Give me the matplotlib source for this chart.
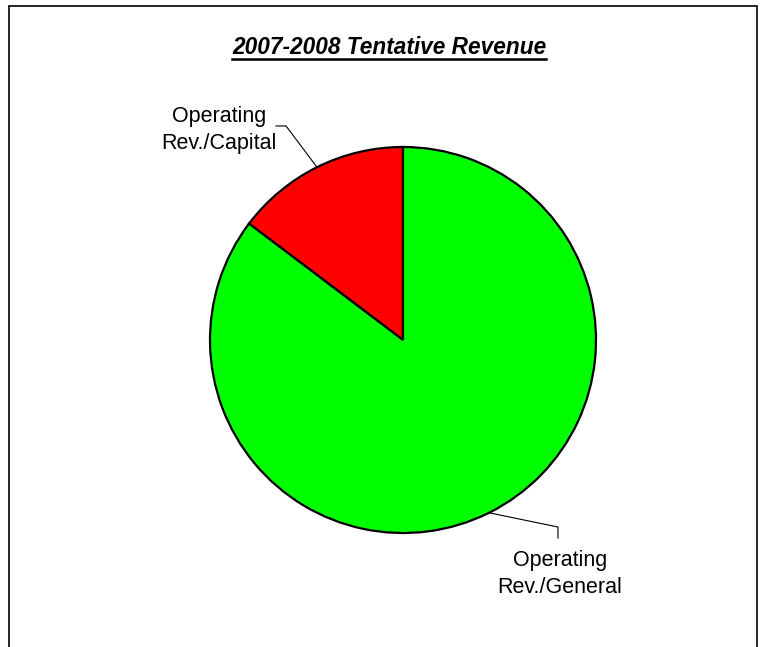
import numpy as np
import matplotlib.pyplot as plt
from matplotlib.lines import Line2D
from matplotlib.patches import Rectangle

# revenue split (percent)
categories = ['Operating\nRev./Capital', 'Operating\nRev./General']
shares = [14.7, 85.3]
colors = ['#ff0000', '#00ff00']

# label placement (data units of the pie axes) and leader elbows
label_pos = [(-0.953, 1.087), (0.813, -1.212)]
elbows = [[(-0.606, 1.109), (-0.658, 1.109)],
          [(0.803, -0.969), (0.803, -1.026)]]

plt.rcParams['font.family'] = ['Liberation Sans', 'DejaVu Sans']

W, H = 767, 647
fig = plt.figure(figsize=(W / 100, H / 100), dpi=100)

# chart frame (bottom edge runs off the page)
fig.patches.append(Rectangle((9 / W, -0.1), (757 - 9) / W, 1.1 - 6 / H,
                             transform=fig.transFigure, fill=False,
                             edgecolor='black', linewidth=1.2))

cx, cy, r = 403, 340, 193
ax = fig.add_axes([(cx - r) / W, (H - cy - r) / H, 2 * r / W, 2 * r / H])
wedges, _ = ax.pie(shares, colors=colors, startangle=90, counterclock=True,
                   wedgeprops=dict(edgecolor='black', linewidth=1.6))
ax.set_xlim(-1, 1)
ax.set_ylim(-1, 1)
ax.set_aspect('equal')
ax.axis('off')

for w, lab, (tx, ty), elb in zip(wedges, categories, label_pos, elbows):
    mid = np.deg2rad((w.theta1 + w.theta2) / 2)
    ex, ey = np.cos(mid), np.sin(mid)
    xs = [ex] + [p[0] for p in elb]
    ys = [ey] + [p[1] for p in elb]
    ax.add_line(Line2D(xs, ys, color='black', linewidth=0.8, clip_on=False))
    ax.text(tx, ty, lab, ha='center', va='center', fontsize=15.5,
            linespacing=1.35, clip_on=False)

# title with underline
title = fig.text(389 / W, 1 - 47 / H, '2007-2008 Tentative Revenue',
                 ha='center', va='center', fontsize=16.3, fontweight='bold',
                 fontstyle='italic')
fig.canvas.draw()
bb = title.get_window_extent().transformed(fig.transFigure.inverted())
fig.add_artist(Line2D([bb.x0, bb.x1], [1 - 59 / H, 1 - 59 / H],
                      transform=fig.transFigure, color='black', linewidth=1.8))

fig.savefig('out.png', dpi=100)
